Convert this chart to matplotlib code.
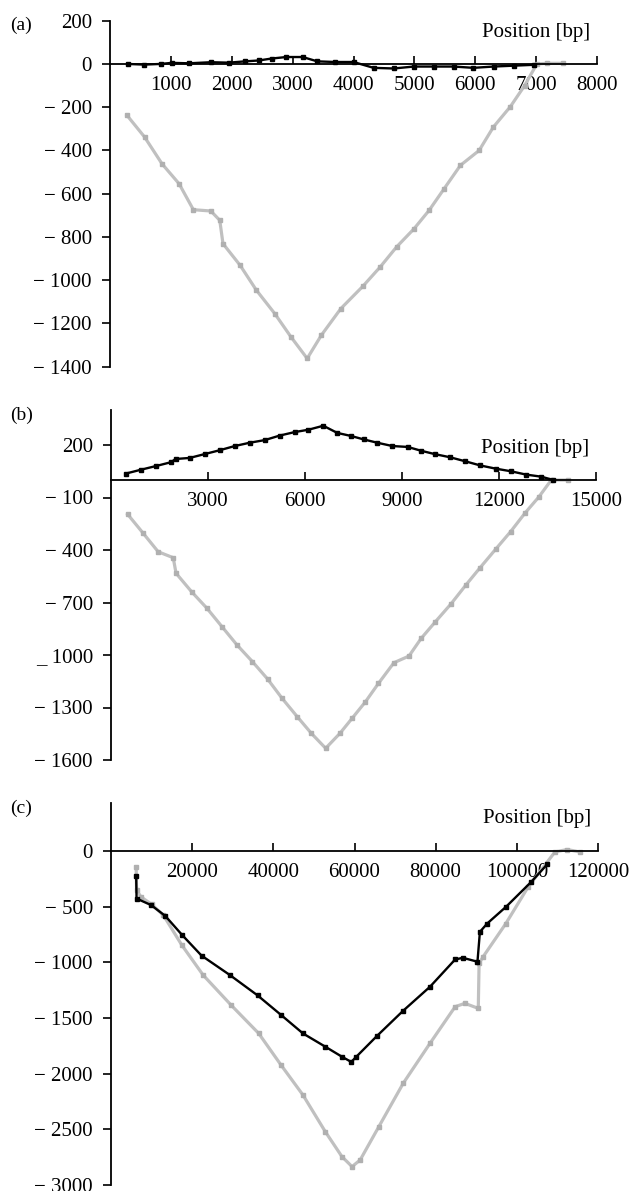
import matplotlib
matplotlib.use("Agg")
import matplotlib.pyplot as plt

plt.rcParams['font.family'] = ['Liberation Serif', 'DejaVu Serif']

# panel (a)
a_gray_x = [280, 568, 855, 1135, 1369, 1656, 1803, 1856, 2137, 2404, 2705, 2972, 3239, 3473,
            3793, 4154, 4441, 4708, 4995, 5242, 5489, 5756, 6064, 6297, 6578, 6811, 7012, 7179, 7446]
a_gray_y = [-238, -338, -462, -554, -674, -680, -723, -831, -931, -1046, -1154, -1262, -1362, -1254,
            -1131, -1028, -938, -846, -762, -677, -577, -469, -400, -292, -197, -100, 0, 3, 3]
a_black_x = [290, 560, 830, 1015, 1300, 1660, 1950, 2220, 2440, 2655, 2895, 3165, 3405, 3700,
             4000, 4330, 4660, 4990, 5320, 5645, 5970, 6300, 6630, 6960]
a_black_y = [0, -3, 0, 5, 3, 8, 6, 12, 16, 25, 32, 32, 12, 9,
             9, -18, -21, -12, -12, -12, -18, -12, -8, -4]

# panel (b)
b_gray_x = [515, 981, 1459, 1924, 2012, 2490, 2967, 3432, 3898, 4375, 4841, 5293, 5758, 6198,
            6639, 7079, 7456, 7871, 8273, 8751, 9216, 9593, 10033, 10511, 10976, 11416, 11894,
            12360, 12800, 13240, 13617, 14120]
b_gray_y = [-196, -301, -410, -444, -533, -638, -733, -838, -943, -1038, -1137, -1248, -1352, -1448,
            -1533, -1448, -1362, -1267, -1162, -1044, -1006, -905, -810, -709, -600, -501, -396,
            -295, -190, -95, 0, 0]
b_black_x = [465, 931, 1396, 1862, 1995, 2430, 2895, 3360, 3826, 4290, 4755, 5220, 5685, 6100,
             6565, 7000, 7415, 7815, 8235, 8705, 9175, 9595, 10013, 10485, 10955, 11425, 11895,
             12365, 12836, 13306, 13683]
b_black_y = [37, 59, 80, 102, 120, 126, 148, 170, 194, 213, 228, 254, 274, 287,
             310, 269, 252, 232, 213, 194, 189, 167, 148, 130, 107, 83, 65,
             50, 31, 19, 0]

# panel (c)
c_gray_x = [6200, 6300, 7400, 10000, 12900, 17450, 22700, 29600, 36400, 41900, 47300, 52800,
            56900, 59400, 61400, 66000, 72000, 78600, 84800, 87200, 90500, 90700, 91700, 97300,
            102800, 109400, 112400, 115500]
c_gray_y = [-144, -353, -413, -480, -577, -846, -1115, -1385, -1639, -1923, -2192, -2521,
            -2745, -2835, -2775, -2476, -2087, -1728, -1399, -1369, -1414, -1010, -950, -652,
            -323, -9, 12, -9]
c_black_x = [6200, 6300, 9900, 13400, 17450, 22300, 29300, 36100, 41800, 47300, 52800, 56900,
             59200, 60400, 65500, 72000, 78600, 84800, 86700, 90300, 90900, 92700, 97400,
             103500, 107500]
c_black_y = [-225, -428, -487, -585, -752, -940, -1115, -1297, -1470, -1639, -1758, -1848,
             -1895, -1850, -1663, -1435, -1220, -975, -960, -995, -727, -652, -500,
             -280, -120]

panels = [
    dict(tag="(a)", top=20.7, bottom=366.7, left=110, right=597, xlim=(0, 8000), ylim=(-1400, 200),
         xticks=[1000, 2000, 3000, 4000, 5000, 6000, 7000, 8000],
         yticks=[200, 0, -200, -400, -600, -800, -1000, -1200, -1400],
         ylabels=None, pos_y=146,
         gray=(a_gray_x, a_gray_y), black=(a_black_x, a_black_y)),
    dict(tag="(b)", top=410, bottom=760, left=111, right=596, xlim=(0, 15000), ylim=(-1600, 400),
         xticks=[3000, 6000, 9000, 12000, 15000],
         yticks=[200, -100, -400, -700, -1000, -1300, -1600],
         ylabels=["200", "\u2212 100", "\u2212 400", "\u2212 700", "_ 1000", "\u2212 1300", "\u2212 1600"],
         pos_y=181,
         gray=(b_gray_x, b_gray_y), black=(b_black_x, b_black_y)),
    dict(tag="(c)", top=803, bottom=1185, left=111, right=598, xlim=(0, 120000), ylim=(-3000, 430),
         xticks=[20000, 40000, 60000, 80000, 100000, 120000],
         yticks=[0, -500, -1000, -1500, -2000, -2500, -3000],
         ylabels=None, pos_y=290,
         gray=(c_gray_x, c_gray_y), black=(c_black_x, c_black_y)),
]

W, H = 636, 1191
fig = plt.figure(figsize=(W / 100, H / 100), dpi=100)

for p in panels:
    ax = fig.add_axes([p['left'] / W, 1 - p['bottom'] / H,
                       (p['right'] - p['left']) / W, (p['bottom'] - p['top']) / H])
    ax.plot(*p['gray'], color='#c0c0c0', lw=2.3, marker='s', ms=2.5, mec='#b0b0b0', mfc='#b0b0b0')
    ax.plot(*p['black'], color='black', lw=1.7, marker='s', ms=2.5)
    ax.set_xlim(*p['xlim'])
    ax.set_ylim(*p['ylim'])
    ax.spines['top'].set_visible(False)
    ax.spines['right'].set_visible(False)
    ax.spines['bottom'].set_position(('data', 0))
    ax.spines['left'].set_bounds(p['ylim'][0], p['yticks'][0] if p['tag'] == "(a)" else p['ylim'][1])
    for s in ('left', 'bottom'):
        ax.spines[s].set_linewidth(1.3)
    ax.set_xticks(p['xticks'])
    ax.set_xticklabels([str(t) for t in p['xticks']])
    ax.set_yticks(p['yticks'])
    if p['ylabels'] is None:
        ax.set_yticklabels([str(t) if t >= 0 else "\u2212 " + str(-t) for t in p['yticks']])
    else:
        ax.set_yticklabels(p['ylabels'])
    ax.tick_params(axis='x', direction='in', length=6, width=1.2, pad=9, labelsize=15)
    ax.tick_params(axis='y', direction='out', length=6, width=1.2, pad=7, labelsize=15)
    ax.patch.set_visible(False)
    ax.text(p['xlim'][1] * 0.985, p['pos_y'], "Position [bp]", ha='right', va='center', fontsize=15)
    fig.text(10 / W, 1 - (p['top'] + 5) / H, p['tag'], ha='left', va='center', fontsize=14)

fig.savefig("out.png", dpi=100)
